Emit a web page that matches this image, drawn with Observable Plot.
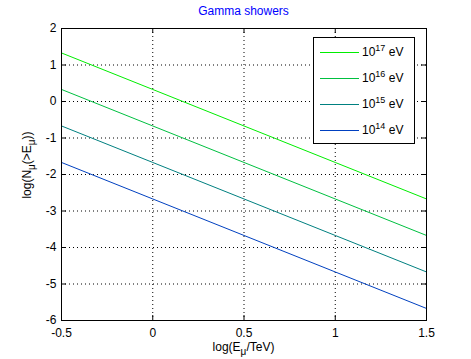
<!DOCTYPE html>
<html><head><meta charset="utf-8">
<script src="https://cdn.jsdelivr.net/npm/d3@7"></script>
<script src="https://cdn.jsdelivr.net/npm/@observablehq/plot@0.6"></script>
<style>
body{margin:0;background:#fff;}
#wrap{position:relative;width:471px;height:359px;font-family:"Liberation Sans",Arial,sans-serif;background:#fff;}
#wrap svg{position:absolute;left:0;top:0;}
#title{position:absolute;left:61px;width:365px;top:4px;text-align:center;color:#0000ff;font-size:12px;line-height:14px;}
#legend{position:absolute;left:313px;top:37px;width:102px;height:107px;border:1px solid #000;background:#fff;box-sizing:border-box;padding-top:1px;font-size:12px;}
.row{height:26px;display:flex;align-items:center;}
.sw{margin-left:6px;width:39px;height:0;border-top:1px solid;}
.lab{margin-left:3px;white-space:nowrap;}
.lab sup{font-size:9px;vertical-align:5px;line-height:0;}
</style></head>
<body>
<div id="wrap">
  <div id="title">Gamma showers</div>
</div>
<script>
// Data
const xValues = [-0.5, 0, 0.5, 1, 1.5];
const exponents = [17, 16, 15, 14];
const y17 = [1.33, 0.33, -0.67, -1.67, -2.67];
const y16 = [0.33, -0.67, -1.67, -2.67, -3.67];
const y15 = [-0.67, -1.67, -2.67, -3.67, -4.67];
const y14 = [-1.67, -2.67, -3.67, -4.67, -5.67];
const seriesColors = ["#00ee00", "#00c040", "#008080", "#0040c0"];
const xTicks = [-0.5, 0, 0.5, 1, 1.5];
const yTicks = [-6, -5, -4, -3, -2, -1, 0, 1, 2];
const titleText = "Gamma showers";

const seriesY = [y17, y16, y15, y14];
const names = exponents.map(e => "1e" + e);
const table = [];
seriesY.forEach((ys, i) => ys.forEach((y, j) => table.push({x: xValues[j], y, series: names[i]})));

const W = 471, H = 359, mT = 28, mB = 39, mL = 61, mR = 45;
const innerW = W - mL - mR, innerH = H - mT - mB;

const chart = Plot.plot({
  width: W, height: H,
  marginTop: mT, marginBottom: mB, marginLeft: mL, marginRight: mR,
  x: {domain: [-0.5, 1.5]},
  y: {domain: [-6, 2]},
  color: {domain: names, range: seriesColors},
  style: {fontFamily: '"Liberation Sans", Arial, sans-serif', fontSize: "12px", color: "black", background: "white", overflow: "visible"},
  marks: [
    Plot.gridX(xTicks, {stroke: "black", strokeOpacity: 1, strokeDasharray: "1,3"}),
    Plot.gridY(yTicks, {stroke: "black", strokeOpacity: 1, strokeDasharray: "1,3"}),
    Plot.line(table, {x: "x", y: "y", z: "series", stroke: "series", strokeWidth: 1}),
    Plot.tickX(xTicks, {x: d => d, insetTop: innerH - 5, stroke: "black"}),
    Plot.tickX(xTicks, {x: d => d, insetBottom: innerH - 5, stroke: "black"}),
    Plot.tickY(yTicks, {y: d => d, insetRight: innerW - 5, stroke: "black"}),
    Plot.tickY(yTicks, {y: d => d, insetLeft: innerW - 5, stroke: "black"}),
    Plot.axisX(xTicks, {tickSize: 0, tickPadding: 8, label: null, tickFormat: d => String(d)}),
    Plot.axisY(yTicks, {tickSize: 0, tickPadding: 5, label: null, tickFormat: d => String(d)}),
    Plot.frame({stroke: "black"})
  ]
});

const wrap = document.getElementById("wrap");
wrap.insertBefore(chart, document.getElementById("title"));
document.getElementById("title").textContent = titleText;

const svg = d3.select(chart);
const xs = chart.scale("x"), ys = chart.scale("y");
const cx = (xs.range[0] + xs.range[1]) / 2;
const cy = (ys.range[0] + ys.range[1]) / 2;

// x label: log(E_mu/TeV)
const xl = svg.append("text").attr("x", cx).attr("y", 351).attr("text-anchor", "middle")
  .attr("font-size", 12).attr("fill", "black");
xl.append("tspan").text("log(E");
xl.append("tspan").attr("dy", 4).attr("font-size", 10).text("μ");
xl.append("tspan").attr("dy", -4).text("/TeV)");

// y label: log(N_mu(>E_mu))
const yl = svg.append("text").attr("transform", `translate(31,${cy - 9}) rotate(-90)`)
  .attr("text-anchor", "middle").attr("font-size", 12).attr("fill", "black");
yl.append("tspan").text("log(N");
yl.append("tspan").attr("dy", 4).attr("font-size", 10).text("μ");
yl.append("tspan").attr("dy", -4).text("(>E");
yl.append("tspan").attr("dy", 4).attr("font-size", 10).text("μ");
yl.append("tspan").attr("dy", -4).text("))");

// legend
const lg = document.createElement("div");
lg.id = "legend";
exponents.forEach((e, i) => {
  const row = document.createElement("div");
  row.className = "row";
  const sw = document.createElement("div");
  sw.className = "sw";
  sw.style.borderTopColor = seriesColors[i];
  const lab = document.createElement("span");
  lab.className = "lab";
  lab.innerHTML = `10<sup>${e}</sup> eV`;
  row.appendChild(sw); row.appendChild(lab);
  lg.appendChild(row);
});
wrap.appendChild(lg);
</script>
</body></html>
